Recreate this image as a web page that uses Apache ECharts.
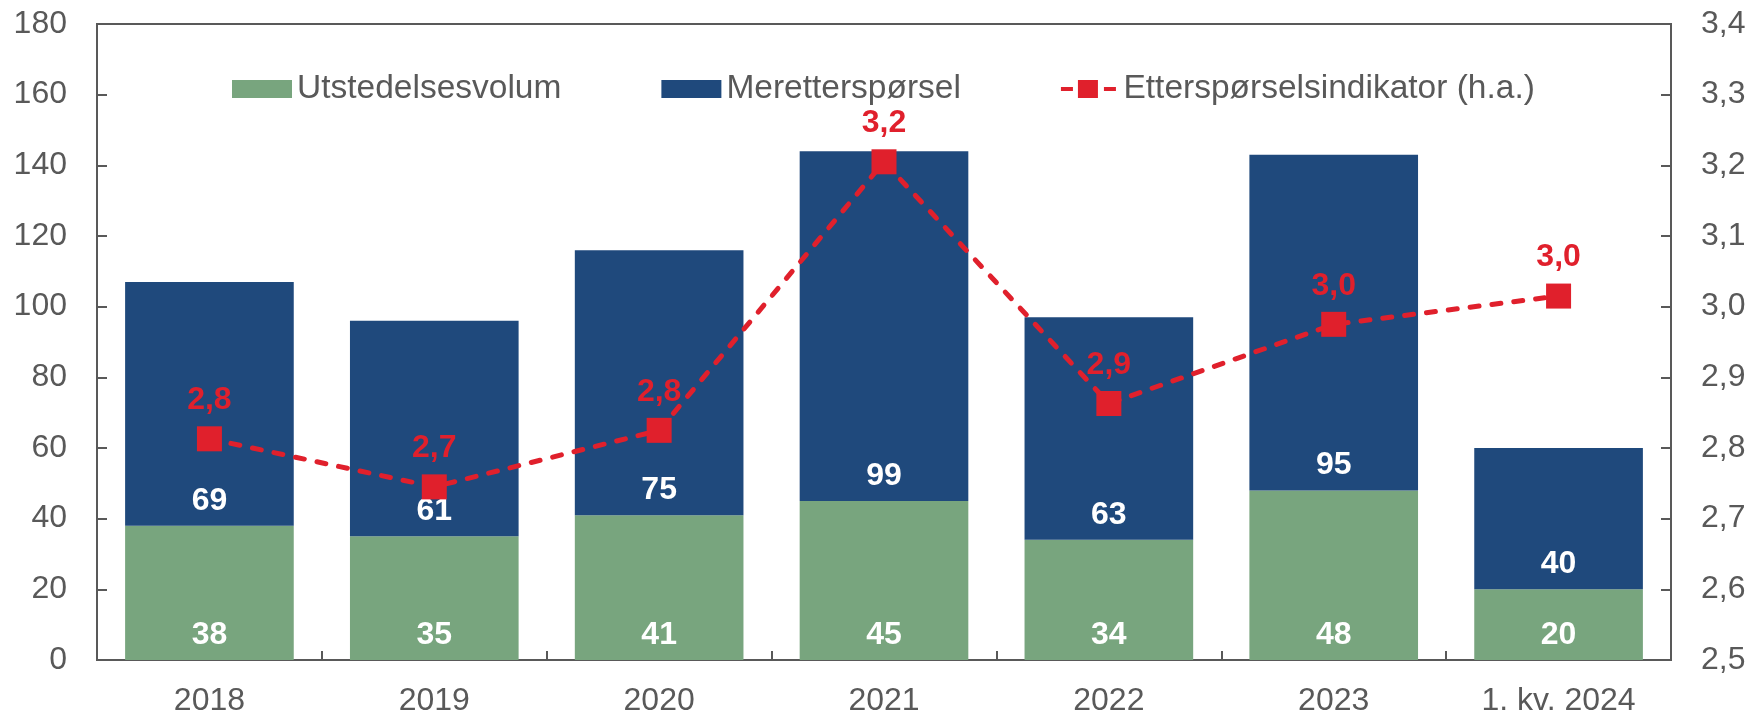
<!DOCTYPE html>
<html>
<head>
<meta charset="utf-8">
<script src="https://cdn.jsdelivr.net/npm/echarts@6/dist/echarts.min.js"></script>
<style>html,body{margin:0;padding:0;background:#fff}#c{width:1750px;height:717px}</style>
</head>
<body>
<div id="c"></div>
<script>
const categories = ['2018', '2019', '2020', '2021', '2022', '2023', '1. kv. 2024'];
const utstedelsesvolum = [38, 35, 41, 45, 34, 48, 20];
const meretterspørsel = [69, 61, 75, 99, 63, 95, 40];
const etterspørselsindikator = [2.813, 2.745, 2.825, 3.205, 2.863, 2.975, 3.015];
const leftTicks = {min: 0, max: 180, interval: 20};
const rightTicks = {min: 2.5, max: 3.4, interval: 0.1};

const FONT = '"Liberation Sans", Arial, sans-serif';
const GRAY = '#595959';
const GREEN = '#78A57E';
const BLUE = '#1F497C';
const RED = '#E0202C';
const LINE_ICON = 'path://M1,7h12v4h-12z M18,0h20v18h-20z M44,7h12v4h-12z';

const chart = echarts.init(document.getElementById('c'), null, {renderer: 'canvas'});
chart.setOption({
  animation: false,
  textStyle: {fontFamily: FONT},
  grid: {left: 97, right: 79, top: 24, bottom: 54, show: true, borderColor: GRAY, borderWidth: 2, backgroundColor: 'transparent'},
  legend: {
    left: 227, top: 67,
    itemWidth: 60, itemHeight: 18, itemGap: 100,
    textStyle: {color: GRAY, fontSize: 33.5, fontFamily: FONT},
    data: [
      {name: 'Utstedelsesvolum', icon: 'rect'},
      {name: 'Meretterspørsel', icon: 'rect'},
      {name: 'Etterspørselsindikator (h.a.)', icon: LINE_ICON, itemStyle: {color: RED}}
    ]
  },
  xAxis: {
    type: 'category', data: categories, boundaryGap: true,
    axisLine: {lineStyle: {color: GRAY, width: 2}},
    axisTick: {show: true, inside: true, length: 9, interval: 0, lineStyle: {color: GRAY, width: 2}},
    axisLabel: {color: GRAY, fontSize: 32, fontFamily: FONT, margin: 25, interval: 0},
    splitLine: {show: false}
  },
  yAxis: [{
    type: 'value', min: leftTicks.min, max: leftTicks.max, interval: leftTicks.interval,
    axisLine: {show: true, lineStyle: {color: GRAY, width: 2}},
    axisTick: {show: true, inside: true, length: 10, lineStyle: {color: GRAY, width: 2}},
    axisLabel: {color: GRAY, fontSize: 32, fontFamily: FONT, margin: 30},
    splitLine: {show: false}
  }, {
    type: 'value', position: 'right', min: rightTicks.min, max: rightTicks.max, interval: rightTicks.interval,
    axisLine: {show: true, lineStyle: {color: GRAY, width: 2}},
    axisTick: {show: true, inside: true, length: 10, lineStyle: {color: GRAY, width: 2}},
    axisLabel: {color: GRAY, fontSize: 32, fontFamily: FONT, margin: 30,
      formatter: v => v.toFixed(1).replace('.', ',')},
    splitLine: {show: false}
  }],
  series: [{
    name: 'Utstedelsesvolum', type: 'bar', stack: 'total', data: utstedelsesvolum,
    barCategoryGap: '25%',
    itemStyle: {color: GREEN},
    label: {show: true, position: 'insideBottom', distance: 9, color: '#fff', fontSize: 32, fontWeight: 'bold', fontFamily: FONT}
  }, {
    name: 'Meretterspørsel', type: 'bar', stack: 'total', data: meretterspørsel,
    barCategoryGap: '25%',
    itemStyle: {color: BLUE},
    label: {show: true, position: 'insideBottom', distance: 9, color: '#fff', fontSize: 32, fontWeight: 'bold', fontFamily: FONT}
  }, {
    name: 'Etterspørselsindikator (h.a.)', type: 'line', yAxisIndex: 1, data: etterspørselsindikator,
    symbol: 'rect', symbolSize: 25, z: 5,
    itemStyle: {color: RED},
    lineStyle: {color: RED, width: 5, type: [9, 13], cap: 'round'},
    label: {show: true, position: 'top', distance: 10, color: RED, fontSize: 32, fontWeight: 'bold', fontFamily: FONT,
      formatter: p => p.value.toFixed(1).replace('.', ',')}
  }]
});
</script>
</body>
</html>
